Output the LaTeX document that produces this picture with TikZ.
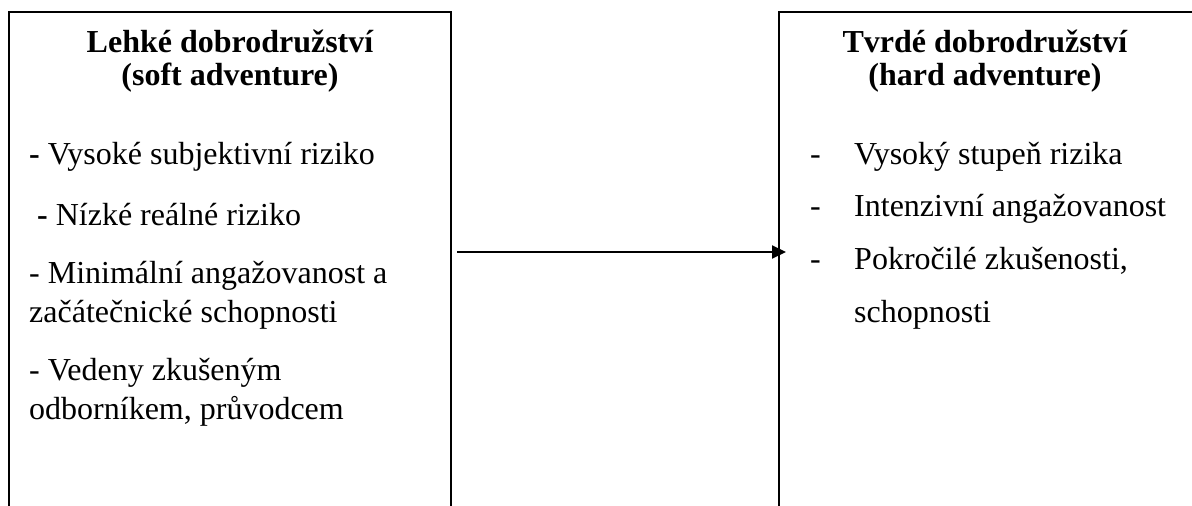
\documentclass[tikz,border=0pt]{standalone}
\usepackage{fontspec}
\setmainfont{Liberation Serif}
\usetikzlibrary{arrows.meta}
\tikzset{
  boxline/.style={line width=2pt, line cap=rect},
  title/.style={anchor=base, inner sep=0pt, font=\fontsize{32}{32}\selectfont\bfseries},
  body/.style={anchor=base west, inner sep=0pt, font=\fontsize{32}{32}\selectfont},
  conn/.style={line width=2pt, -{Triangle[length=14pt,width=13pt]}}
}
\begin{document}
\begin{tikzpicture}[x=1pt,y=-1pt]
\useasboundingbox (0,0) rectangle (1192,506);
% left box (open at bottom)
\draw[boxline] (9,520) -- (9,12) -- (451,12) -- (451,520);
% right box (open at bottom, right edge outside)
\draw[boxline] (779,520) -- (779,12) -- (1200,12);
% left titles
\node[title] (lt1) at (230,52) {Lehké dobrodružství};
\node[title] (lt2) at (230,85) {(soft adventure)};
% right titles
\node[title] (rt1) at (985,52) {Tvrdé dobrodružství};
\node[title] (rt2) at (985,85) {(hard adventure)};
% left body
\node[body] (l1) at (29,164) {\textbf{-} Vysoké subjektivní riziko};
\node[body] (l2) at (37,225) {\textbf{-} Nízké reálné riziko};
\node[body] (l3) at (29,283) {- Minimální angažovanost a};
\node[body] (l4) at (29,322) {začátečnické schopnosti};
\node[body] (l5) at (29,380) {- Vedeny zkušeným};
\node[body] (l6) at (29,419) {odborníkem, průvodcem};
% right body
\node[body] (r1d) at (810,164) {-};
\node[body] (r1) at (854,164) {Vysoký stupeň rizika};
\node[body] (r2d) at (810,216) {-};
\node[body] (r2) at (854,216) {Intenzivní angažovanost};
\node[body] (r3d) at (810,269) {-};
\node[body] (r3) at (854,269) {Pokročilé zkušenosti,};
\node[body] (r4) at (854,322) {schopnosti};
% arrow
\coordinate (as) at (457,252);
\coordinate (ae) at (786,252);
\draw[conn] (as) -- (ae);
\end{tikzpicture}
\end{document}
